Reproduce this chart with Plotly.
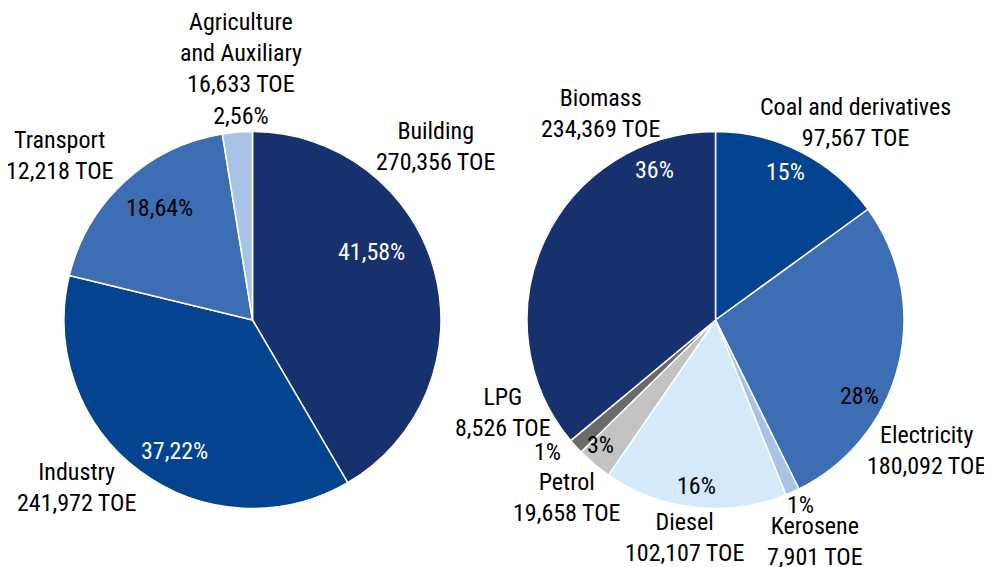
import plotly.graph_objects as go

# the page body has an 8px margin, so the figure is a bit smaller and offset
OFF = 8
W, H = 992 - OFF, 567 - OFF

# left pie: energy consumption by sector
sectors = ["Building", "Industry", "Transport", "Agriculture and Auxiliary"]
sector_share = [41.58, 37.22, 18.64, 2.56]
sector_colors = ["#17306e", "#03438f", "#3d6db3", "#a9c3e6"]

# right pie: energy consumption by source
sources = ["Coal and derivatives", "Electricity", "Kerosene", "Diesel", "Petrol", "LPG", "Biomass"]
source_toe = [97567, 180092, 7901, 102107, 19658, 8526, 234369]
source_colors = ["#03438f", "#3d6db3", "#a9c3e6", "#d4e9f9", "#c3c3c3", "#6a6a6a", "#17306e"]

FONT = "Roboto Condensed, Liberation Sans Narrow, DejaVu Sans Condensed, Roboto, sans-serif"


def px(x):
    return (x - OFF) / W


def py(y):
    return 1 - (y - OFF) / H


fig = go.Figure()

fig.add_trace(go.Pie(
    labels=sectors, values=sector_share,
    marker=dict(colors=sector_colors, line=dict(color="white", width=1.5)),
    sort=False, direction="clockwise", rotation=0,
    textinfo="none", hoverinfo="label+percent",
    domain=dict(x=[px(64), px(441)], y=[py(509), py(131)]),
    showlegend=False,
))

fig.add_trace(go.Pie(
    labels=sources, values=source_toe,
    marker=dict(colors=source_colors, line=dict(color="white", width=1.5)),
    sort=False, direction="clockwise", rotation=0,
    textinfo="none", hoverinfo="label+value+percent",
    domain=dict(x=[px(527), px(904)], y=[py(509), py(131)]),
    showlegend=False,
))

# (text, x px, y px, colour)
labels = [
    ("Agriculture<br>and Auxiliary<br>16,633 TOE<br>2,56%", 241, 69, "black"),
    ("Transport<br>12,218 TOE", 60, 156, "black"),
    ("Building<br>270,356 TOE", 435, 146, "black"),
    ("Industry<br>241,972 TOE", 76, 487, "black"),
    ("41,58%", 371, 252, "white"),
    ("18,64%", 159, 208, "black"),
    ("37,22%", 174, 451, "white"),
    ("Biomass<br>234,369 TOE", 600, 113, "black"),
    ("Coal and derivatives<br>97,567 TOE", 855, 122, "black"),
    ("36%", 654, 170, "white"),
    ("15%", 785, 172, "white"),
    ("28%", 859, 396, "black"),
    ("Electricity<br>180,092 TOE", 926, 450, "black"),
    ("LPG<br>8,526 TOE", 503, 412, "black"),
    ("1%", 547, 452, "black"),
    ("3%", 600, 445, "black"),
    ("Petrol<br>19,658 TOE", 567, 497, "black"),
    ("16%", 696, 486, "black"),
    ("Diesel<br>102,107 TOE", 684, 537, "black"),
    ("1%", 800, 505, "black"),
    ("Kerosene<br>7,901 TOE", 815, 541, "black"),
]

for text, x, y, col in labels:
    fig.add_annotation(
        text=text, x=px(x), y=py(y), xref="paper", yref="paper",
        xanchor="center", yanchor="middle", showarrow=False,
        font=dict(family=FONT, size=24, color=col),
    )

fig.update_layout(
    width=W, height=H,
    margin=dict(l=0, r=0, t=0, b=0),
    paper_bgcolor="white", plot_bgcolor="white",
    font=dict(family=FONT, size=24, color="black"),
)

fig.write_html("out.html")
